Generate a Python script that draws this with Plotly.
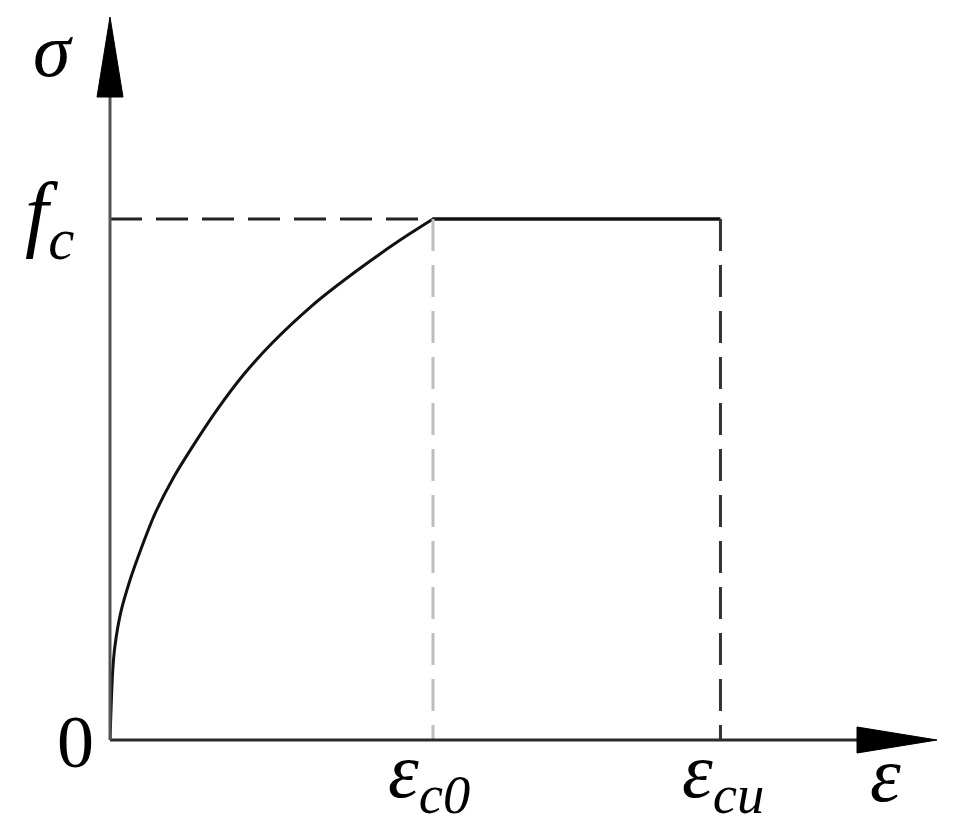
import plotly.graph_objects as go

# ---- data (strain normalised by eps_c0, stress normalised by f_c) ----
eps_curve = [0, 0.008, 0.015, 0.033, 0.062, 0.098, 0.139, 0.195, 0.268,
             0.334, 0.412, 0.505, 0.624, 0.702, 0.836, 0.929, 1.0]
sig_curve = [0, 0.129, 0.179, 0.244, 0.307, 0.370, 0.434, 0.502, 0.575,
             0.636, 0.700, 0.764, 0.833, 0.872, 0.933, 0.972, 1.0]
eps_c0 = 1.0
eps_cu = 1.89
f_c = 1.0
x_tick_labels = ["<i>ε</i><sub><i>c0</i></sub>", "<i>ε</i><sub><i>cu</i></sub>"]
y_tick_label = "<i>f</i><sub><i>c</i></sub>"

# ---- layout geometry (page has an 8px body margin) ----
W, H = 951, 832
ML, MR, MT, MB = 102, 22, 9, 100
PW, PH = W - ML - MR, H - MT - MB
XPX, YPX = 323.0, 521.0          # pixels per unit
XMAX, YMAX = PW / XPX, PH / YPX


def px(p):      # pixel length -> paper x fraction
    return p / PW


def py(p):      # pixel length -> paper y fraction
    return p / PH


def X(v):       # data x -> paper x
    return v / XMAX


def Y(v):       # data y -> paper y
    return v / YMAX


SERIF = "Liberation Serif, Times New Roman, serif"

fig = go.Figure()

# curve
fig.add_trace(go.Scatter(x=eps_curve, y=sig_curve, mode="lines",
                         line=dict(color="#111", width=3, shape="spline", smoothing=0.8),
                         hoverinfo="skip", showlegend=False, cliponaxis=False))
# plateau
fig.add_trace(go.Scatter(x=[eps_c0, eps_cu], y=[f_c, f_c], mode="lines",
                         line=dict(color="#111", width=3.5),
                         hoverinfo="skip", showlegend=False))
# dashed guides
fig.add_trace(go.Scatter(x=[0, eps_c0], y=[f_c, f_c], mode="lines",
                         line=dict(color="#222", width=3, dash="32px,14px"),
                         hoverinfo="skip", showlegend=False))
fig.add_trace(go.Scatter(x=[eps_c0, eps_c0], y=[f_c, 0], mode="lines",
                         line=dict(color="#bdbdbd", width=3, dash="32px,14px"),
                         hoverinfo="skip", showlegend=False))
fig.add_trace(go.Scatter(x=[eps_cu, eps_cu], y=[f_c, 0], mode="lines",
                         line=dict(color="#333", width=3, dash="32px,14px"),
                         hoverinfo="skip", showlegend=False))

shapes = []
# axes lines (paper refs so they are not clipped)
shapes.append(dict(type="line", xref="paper", yref="paper", x0=0, y0=0, x1=1 - px(60), y1=0,
                   line=dict(color="#2a2a2a", width=3)))
shapes.append(dict(type="line", xref="paper", yref="paper", x0=0, y0=0, x1=0, y1=1 - py(60),
                   line=dict(color="#555", width=3)))
# arrow heads
ah_len, ah_half = 80, 13
shapes.append(dict(type="path", xref="paper", yref="paper",
                   path=f"M 1,0 L {1 - px(ah_len)},{py(ah_half)} L {1 - px(ah_len)},{-py(ah_half)} Z",
                   fillcolor="#000", line=dict(color="#000", width=1)))
shapes.append(dict(type="path", xref="paper", yref="paper",
                   path=f"M 0,1 L {px(ah_half)},{1 - py(ah_len)} L {-px(ah_half)},{1 - py(ah_len)} Z",
                   fillcolor="#000", line=dict(color="#000", width=1)))

ann = []
font_big = dict(family=SERIF, size=84, color="#000")
font_x = dict(family=SERIF, size=78, color="#000")
ann.append(dict(x=-px(57), y=1 - py(33), text="<i>σ</i>",
                font=dict(family=SERIF, size=76, color="#000")))
ann.append(dict(x=-px(60), y=Y(f_c) + py(0), text=y_tick_label, font=font_big))
ann.append(dict(x=-px(35), y=-py(2), text="0", font=dict(family=SERIF, size=74, color="#000")))
ann.append(dict(x=X(eps_c0) - px(4), y=-py(36), text=x_tick_labels[0], font=font_x))
ann.append(dict(x=X(eps_cu) + px(3), y=-py(36), text=x_tick_labels[1], font=font_x))
ann.append(dict(x=1 - px(52), y=-py(34), text="<i>ε</i>", font=font_x))
for a in ann:
    a.update(xref="paper", yref="paper", showarrow=False, xanchor="center", yanchor="middle")

fig.update_layout(
    width=W, height=H,
    margin=dict(l=ML, r=MR, t=MT, b=MB, pad=0),
    paper_bgcolor="white", plot_bgcolor="white",
    xaxis=dict(range=[0, XMAX], visible=False, fixedrange=True),
    yaxis=dict(range=[0, YMAX], visible=False, fixedrange=True),
    shapes=shapes, annotations=ann, showlegend=False,
)

fig.write_html("out.html")
